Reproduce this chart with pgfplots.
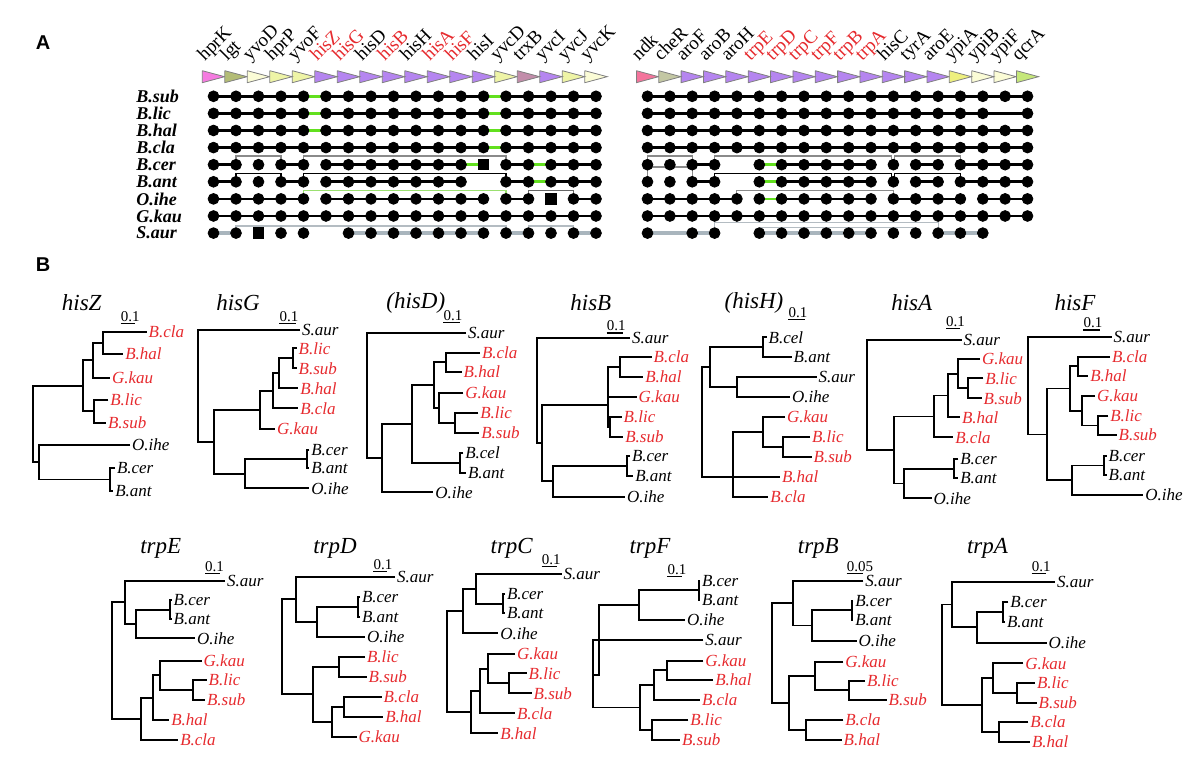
\documentclass[border=0pt]{standalone}
\usepackage{fontspec}
\setmainfont{Liberation Serif}
\newfontfamily\arialf{Liberation Sans}
\usepackage{pgfplots}
\pgfplotsset{compat=1.18}
\definecolor{myred}{HTML}{E62A2E}
\definecolor{pinkL}{HTML}{F57BE0}
\definecolor{oliveA}{HTML}{B3BC76}
\definecolor{paleY}{HTML}{FBFCD6}
\definecolor{lightY}{HTML}{EEF4A6}
\definecolor{purp}{HTML}{B585F0}
\definecolor{mauve}{HTML}{C28DAA}
\definecolor{pinkR}{HTML}{F4749C}
\definecolor{cheR}{HTML}{C3C7A3}
\definecolor{ypiA}{HTML}{EEF07E}
\definecolor{qcrA}{HTML}{C5E77A}
\definecolor{grn}{HTML}{62E01E}
\definecolor{saur}{HTML}{A9B5BD}
\definecolor{brk}{HTML}{8A8A8A}
\definecolor{brkl}{HTML}{B4BCC2}
\definecolor{brkg}{HTML}{9BE070}
\tikzset{
 lab/.style={anchor=west,inner sep=0pt,xshift=0.8pt,font=\fontsize{8.5}{9}\selectfont\itshape},
 ttl/.style={inner sep=0pt,font=\fontsize{11.5}{12}\selectfont\itshape},
 sc/.style={anchor=base west,inner sep=0pt,font=\fontsize{7.5}{8}\selectfont},
 gl/.style={anchor=base west,inner sep=0pt,rotate=45,font=\fontsize{9.5}{10}\selectfont},
 sp/.style={anchor=west,inner sep=0pt,font=\fontsize{9}{10}\selectfont\bfseries\itshape},
}
\newcommand\Lk[3]{\node[lab] at (axis cs:#1,#2) {#3};}
\newcommand\Lr[3]{\node[lab,text=myred] at (axis cs:#1,#2) {#3};}
\pgfplotsset{tree/.style={black,line width=0.85pt},
 arr/.style={draw=gray,line width=0.4pt}}
\begin{document}
\begin{tikzpicture}
\begin{axis}[width=600pt,height=387pt,scale only axis,xmin=0,xmax=1200,ymin=0,ymax=774,y dir=reverse,hide axis,clip=false,unbounded coords=jump]
\addplot[draw=none] coordinates {(0,0) (1200,774)};
% ---------- Panel labels
\node[font=\arialf\bfseries\fontsize{10}{11}\selectfont] at (axis cs:43,43) {A};
\node[font=\arialf\bfseries\fontsize{10}{11}\selectfont] at (axis cs:43,265) {B};
% ---------- arrows
\addplot[arr,fill=pinkL] coordinates {(202.3,70.7)(224.7,76.7)(202.3,82.7)(202.3,70.7)};
\addplot[arr,fill=oliveA] coordinates {(224.8,70.7)(247.2,76.7)(224.8,82.7)(224.8,70.7)};
\addplot[arr,fill=paleY] coordinates {(247.3,70.7)(269.7,76.7)(247.3,82.7)(247.3,70.7)(nan,nan)
 (584.8,70.7)(607.2,76.7)(584.8,82.7)(584.8,70.7)(nan,nan)
 (971.7,70.7)(993.9,76.7)(971.7,82.7)(971.7,70.7)(nan,nan)
 (994,70.7)(1016.2,76.7)(994,82.7)(994,70.7)};
\addplot[arr,fill=lightY] coordinates {(269.8,70.7)(292.2,76.7)(269.8,82.7)(269.8,70.7)(nan,nan)
 (292.3,70.7)(314.7,76.7)(292.3,82.7)(292.3,70.7)(nan,nan)
 (494.8,70.7)(517.2,76.7)(494.8,82.7)(494.8,70.7)(nan,nan)
 (562.3,70.7)(584.7,76.7)(562.3,82.7)(562.3,70.7)};
\addplot[arr,fill=purp] coordinates {(314.8,70.7)(337.2,76.7)(314.8,82.7)(314.8,70.7)(nan,nan)
 (337.3,70.7)(359.7,76.7)(337.3,82.7)(337.3,70.7)(nan,nan)
 (359.8,70.7)(382.2,76.7)(359.8,82.7)(359.8,70.7)(nan,nan)
 (382.3,70.7)(404.7,76.7)(382.3,82.7)(382.3,70.7)(nan,nan)
 (404.8,70.7)(427.2,76.7)(404.8,82.7)(404.8,70.7)(nan,nan)
 (427.3,70.7)(449.7,76.7)(427.3,82.7)(427.3,70.7)(nan,nan)
 (449.8,70.7)(472.2,76.7)(449.8,82.7)(449.8,70.7)(nan,nan)
 (472.3,70.7)(494.7,76.7)(472.3,82.7)(472.3,70.7)(nan,nan)
 (539.8,70.7)(562.2,76.7)(539.8,82.7)(539.8,70.7)(nan,nan)
 (681.1,70.7)(703.3,76.7)(681.1,82.7)(681.1,70.7)(nan,nan)
 (703.5,70.7)(725.7,76.7)(703.5,82.7)(703.5,70.7)(nan,nan)
 (725.8,70.7)(748,76.7)(725.8,82.7)(725.8,70.7)(nan,nan)
 (748.2,70.7)(770.4,76.7)(748.2,82.7)(748.2,70.7)(nan,nan)
 (770.5,70.7)(792.7,76.7)(770.5,82.7)(770.5,70.7)(nan,nan)
 (792.9,70.7)(815.1,76.7)(792.9,82.7)(792.9,70.7)(nan,nan)
 (815.2,70.7)(837.4,76.7)(815.2,82.7)(815.2,70.7)(nan,nan)
 (837.6,70.7)(859.8,76.7)(837.6,82.7)(837.6,70.7)(nan,nan)
 (859.9,70.7)(882.1,76.7)(859.9,82.7)(859.9,70.7)(nan,nan)
 (882.3,70.7)(904.5,76.7)(882.3,82.7)(882.3,70.7)(nan,nan)
 (904.6,70.7)(926.8,76.7)(904.6,82.7)(904.6,70.7)(nan,nan)
 (927,70.7)(949.2,76.7)(927,82.7)(927,70.7)};
\addplot[arr,fill=mauve] coordinates {(517.3,70.7)(539.7,76.7)(517.3,82.7)(517.3,70.7)};
\addplot[arr,fill=pinkR] coordinates {(636.4,70.7)(658.6,76.7)(636.4,82.7)(636.4,70.7)};
\addplot[arr,fill=cheR] coordinates {(658.8,70.7)(681,76.7)(658.8,82.7)(658.8,70.7)};
\addplot[arr,fill=ypiA] coordinates {(949.3,70.7)(971.5,76.7)(949.3,82.7)(949.3,70.7)};
\addplot[arr,fill=qcrA] coordinates {(1016.4,70.7)(1038.6,76.7)(1016.4,82.7)(1016.4,70.7)};
% ---------- gene labels
\node[gl] at (axis cs:204.5,62) {hprK};
\node[gl] at (axis cs:227,62) {lgt};
\node[gl] at (axis cs:249.5,62) {yvoD};
\node[gl] at (axis cs:272,62) {hprP};
\node[gl] at (axis cs:294.5,62) {yvoF};
\node[gl,text=myred] at (axis cs:317,62) {hisZ};
\node[gl,text=myred] at (axis cs:339.5,62) {hisG};
\node[gl] at (axis cs:362,62) {hisD};
\node[gl,text=myred] at (axis cs:384.5,62) {hisB};
\node[gl] at (axis cs:407,62) {hisH};
\node[gl,text=myred] at (axis cs:429.5,62) {hisA};
\node[gl,text=myred] at (axis cs:452,62) {hisF};
\node[gl] at (axis cs:474.5,62) {hisI};
\node[gl] at (axis cs:497,62) {yvcD};
\node[gl] at (axis cs:519.5,62) {trxB};
\node[gl] at (axis cs:542,62) {yvcI};
\node[gl] at (axis cs:564.5,62) {yvcJ};
\node[gl] at (axis cs:587,62) {yvcK};
\node[gl] at (axis cs:638.5,62) {ndk};
\node[gl] at (axis cs:660.9,62) {cheR};
\node[gl] at (axis cs:683.2,62) {aroF};
\node[gl] at (axis cs:705.6,62) {aroB};
\node[gl] at (axis cs:727.9,62) {aroH};
\node[gl,text=myred] at (axis cs:750.3,62) {trpE};
\node[gl,text=myred] at (axis cs:772.6,62) {trpD};
\node[gl,text=myred] at (axis cs:795,62) {trpC};
\node[gl,text=myred] at (axis cs:817.3,62) {trpF};
\node[gl,text=myred] at (axis cs:839.7,62) {trpB};
\node[gl,text=myred] at (axis cs:862,62) {trpA};
\node[gl] at (axis cs:884.4,62) {hisC};
\node[gl] at (axis cs:906.7,62) {tyrA};
\node[gl] at (axis cs:929.1,62) {aroE};
\node[gl] at (axis cs:951.4,62) {ypiA};
\node[gl] at (axis cs:973.8,62) {ypiB};
\node[gl] at (axis cs:996.1,62) {ypiF};
\node[gl] at (axis cs:1018.5,62) {qcrA};
% ---------- species labels
\node[sp] at (axis cs:136,96.3) {B.sub};
\node[sp] at (axis cs:136,113.4) {B.lic};
\node[sp] at (axis cs:136,130.5) {B.hal};
\node[sp] at (axis cs:136,147.6) {B.cla};
\node[sp] at (axis cs:136,164.7) {B.cer};
\node[sp] at (axis cs:136,181.8) {B.ant};
\node[sp] at (axis cs:136,198.9) {O.ihe};
\node[sp] at (axis cs:136,216) {G.kau};
\node[sp] at (axis cs:136,233.1) {S.aur};
% ---------- brackets
\addplot[brk,line width=0.55pt] coordinates {(236,164.7)(236,156)(281,156)(281,164.7)(nan,nan)
 (303.5,164.7)(303.5,156)(506,156)(506,164.7)(nan,nan)
 (647.5,164.7)(647.5,156)(692.2,156)(692.2,164.7)(nan,nan)
 (714.6,164.7)(714.6,156)(891.9,156)(891.9,164.7)(nan,nan)
 (894.9,164.7)(894.9,156)(960.4,156)(960.4,164.7)(nan,nan)
 (647.5,181.8)(647.5,167)(692.2,167)(692.2,181.8)(nan,nan)
 (736.9,198.9)(736.9,190.7)(893.4,190.7)(893.4,198.9)};
\addplot[black,line width=0.55pt] coordinates {(236,181.8)(236,173.3)(281,173.3)(281,181.8)(nan,nan)
 (303.5,181.8)(303.5,173.3)(506,173.3)(506,181.8)(nan,nan)
 (714.6,181.8)(714.6,173.3)(891.9,173.3)(891.9,181.8)(nan,nan)
 (894.9,181.8)(894.9,173.3)(960.4,173.3)(960.4,181.8)};
\addplot[brkg,line width=0.55pt] coordinates {(303.5,198.9)(303.5,190.7)(506,190.7)(506,198.9)};
\addplot[black!60,line width=0.55pt] coordinates {(528.5,198.9)(528.5,190.7)(573.5,190.7)(573.5,198.9)};
\addplot[brkl,line width=0.55pt] coordinates {(236,233.1)(236,226)(303.5,226)(303.5,233.1)(nan,nan)
 (303.5,233.1)(303.5,226)(506,226)(506,233.1)(nan,nan)
 (528.5,233.1)(528.5,226)(573.5,226)(573.5,233.1)(nan,nan)
 (714.6,233.1)(714.6,222.7)(938.1,222.7)(938.1,233.1)(nan,nan)
 (759.3,233.1)(759.3,227.3)(915.7,227.3)(915.7,233.1)};
% ---------- black adjacency lines
\addplot[black,line width=1.35pt] coordinates {
 (213.5,96.3)(303.5,96.3)(nan,nan)(326,96.3)(483.5,96.3)(nan,nan)(506,96.3)(596,96.3)(nan,nan)(647.5,96.3)(1027.5,96.3)(nan,nan)
 (213.5,113.4)(303.5,113.4)(nan,nan)(326,113.4)(483.5,113.4)(nan,nan)(506,113.4)(596,113.4)(nan,nan)(647.5,113.4)(1027.5,113.4)(nan,nan)
 (213.5,130.5)(303.5,130.5)(nan,nan)(326,130.5)(483.5,130.5)(nan,nan)(506,130.5)(596,130.5)(nan,nan)(647.5,130.5)(1027.5,130.5)(nan,nan)
 (213.5,147.6)(483.5,147.6)(nan,nan)(506,147.6)(596,147.6)(nan,nan)(647.5,147.6)(1027.5,147.6)(nan,nan)
 (213.5,164.7)(236,164.7)(nan,nan)(281,164.7)(303.5,164.7)(nan,nan)(326,164.7)(461,164.7)(nan,nan)(506,164.7)(528.5,164.7)(nan,nan)(551,164.7)(596,164.7)(nan,nan)
 (692.2,164.7)(714.6,164.7)(nan,nan)(781.6,164.7)(871,164.7)(nan,nan)(915.7,164.7)(938.1,164.7)(nan,nan)(960.4,164.7)(1027.5,164.7)(nan,nan)
 (213.5,181.8)(236,181.8)(nan,nan)(281,181.8)(303.5,181.8)(nan,nan)(326,181.8)(461,181.8)(nan,nan)(506,181.8)(528.5,181.8)(nan,nan)(551,181.8)(596,181.8)(nan,nan)
 (692.2,181.8)(714.6,181.8)(nan,nan)(781.6,181.8)(871,181.8)(nan,nan)(915.7,181.8)(938.1,181.8)(nan,nan)(960.4,181.8)(1027.5,181.8)(nan,nan)
 (213.5,198.9)(303.5,198.9)(nan,nan)(326,198.9)(483.5,198.9)(nan,nan)(506,198.9)(528.5,198.9)(nan,nan)(573.5,198.9)(596,198.9)(nan,nan)
 (647.5,198.9)(736.9,198.9)(nan,nan)(781.6,198.9)(871,198.9)(nan,nan)(893.4,198.9)(960.4,198.9)(nan,nan)(982.8,198.9)(1027.5,198.9)(nan,nan)
 (213.5,216)(596,216)(nan,nan)(647.5,216)(1027.5,216)};
\addplot[grn,line width=1.35pt] coordinates {
 (303.5,96.3)(326,96.3)(nan,nan)(483.5,96.3)(506,96.3)(nan,nan)
 (303.5,113.4)(326,113.4)(nan,nan)(483.5,113.4)(506,113.4)(nan,nan)
 (303.5,130.5)(326,130.5)(nan,nan)(483.5,130.5)(506,130.5)(nan,nan)
 (483.5,147.6)(506,147.6)(nan,nan)
 (461,164.7)(483.5,164.7)(nan,nan)(528.5,164.7)(551,164.7)(nan,nan)(759.3,164.7)(781.6,164.7)(nan,nan)
 (528.5,181.8)(551,181.8)(nan,nan)(759.3,181.8)(781.6,181.8)(nan,nan)
 (759.3,198.9)(781.6,198.9)};
% ---------- dots
\addplot[only marks,mark=*,mark size=2.7pt,black] coordinates {
 (213.5,96.3)(236,96.3)(258.5,96.3)(281,96.3)(303.5,96.3)(326,96.3)(348.5,96.3)(371,96.3)(393.5,96.3)(416,96.3)(438.5,96.3)(461,96.3)(483.5,96.3)(506,96.3)(528.5,96.3)(551,96.3)(573.5,96.3)(596,96.3)
 (647.5,96.3)(669.9,96.3)(692.2,96.3)(714.6,96.3)(736.9,96.3)(759.3,96.3)(781.6,96.3)(804,96.3)(826.3,96.3)(848.7,96.3)(871,96.3)(893.4,96.3)(915.7,96.3)(938.1,96.3)(960.4,96.3)(982.8,96.3)(1005.1,96.3)(1027.5,96.3)
 (213.5,113.4)(236,113.4)(258.5,113.4)(281,113.4)(303.5,113.4)(326,113.4)(348.5,113.4)(371,113.4)(393.5,113.4)(416,113.4)(438.5,113.4)(461,113.4)(483.5,113.4)(506,113.4)(528.5,113.4)(551,113.4)(573.5,113.4)(596,113.4)
 (647.5,113.4)(669.9,113.4)(692.2,113.4)(714.6,113.4)(736.9,113.4)(759.3,113.4)(781.6,113.4)(804,113.4)(826.3,113.4)(848.7,113.4)(871,113.4)(893.4,113.4)(915.7,113.4)(938.1,113.4)(960.4,113.4)(982.8,113.4)(1027.5,113.4)
 (213.5,130.5)(236,130.5)(258.5,130.5)(281,130.5)(303.5,130.5)(326,130.5)(348.5,130.5)(371,130.5)(393.5,130.5)(416,130.5)(438.5,130.5)(461,130.5)(483.5,130.5)(506,130.5)(528.5,130.5)(551,130.5)(573.5,130.5)(596,130.5)
 (647.5,130.5)(669.9,130.5)(692.2,130.5)(714.6,130.5)(736.9,130.5)(759.3,130.5)(781.6,130.5)(804,130.5)(826.3,130.5)(848.7,130.5)(871,130.5)(893.4,130.5)(915.7,130.5)(938.1,130.5)(960.4,130.5)(982.8,130.5)(1005.1,130.5)(1027.5,130.5)
 (213.5,147.6)(236,147.6)(258.5,147.6)(281,147.6)(303.5,147.6)(326,147.6)(348.5,147.6)(371,147.6)(393.5,147.6)(416,147.6)(438.5,147.6)(461,147.6)(483.5,147.6)(506,147.6)(528.5,147.6)(551,147.6)(573.5,147.6)(596,147.6)
 (647.5,147.6)(669.9,147.6)(692.2,147.6)(714.6,147.6)(736.9,147.6)(759.3,147.6)(781.6,147.6)(804,147.6)(826.3,147.6)(848.7,147.6)(871,147.6)(893.4,147.6)(915.7,147.6)(938.1,147.6)(960.4,147.6)(982.8,147.6)(1005.1,147.6)(1027.5,147.6)
 (213.5,164.7)(236,164.7)(258.5,164.7)(281,164.7)(303.5,164.7)(326,164.7)(348.5,164.7)(371,164.7)(393.5,164.7)(416,164.7)(438.5,164.7)(461,164.7)(506,164.7)(528.5,164.7)(551,164.7)(573.5,164.7)(596,164.7)
 (647.5,164.7)(669.9,164.7)(692.2,164.7)(714.6,164.7)(759.3,164.7)(781.6,164.7)(804,164.7)(826.3,164.7)(848.7,164.7)(871,164.7)(893.4,164.7)(915.7,164.7)(938.1,164.7)(960.4,164.7)(982.8,164.7)(1005.1,164.7)(1027.5,164.7)
 (213.5,181.8)(236,181.8)(258.5,181.8)(281,181.8)(303.5,181.8)(326,181.8)(348.5,181.8)(371,181.8)(393.5,181.8)(416,181.8)(438.5,181.8)(461,181.8)(506,181.8)(528.5,181.8)(551,181.8)(573.5,181.8)(596,181.8)
 (647.5,181.8)(669.9,181.8)(692.2,181.8)(714.6,181.8)(759.3,181.8)(781.6,181.8)(804,181.8)(826.3,181.8)(848.7,181.8)(871,181.8)(893.4,181.8)(915.7,181.8)(938.1,181.8)(960.4,181.8)(982.8,181.8)(1005.1,181.8)(1027.5,181.8)
 (213.5,198.9)(236,198.9)(258.5,198.9)(281,198.9)(303.5,198.9)(326,198.9)(348.5,198.9)(371,198.9)(393.5,198.9)(416,198.9)(438.5,198.9)(461,198.9)(483.5,198.9)(506,198.9)(528.5,198.9)(573.5,198.9)(596,198.9)
 (647.5,198.9)(669.9,198.9)(692.2,198.9)(714.6,198.9)(736.9,198.9)(759.3,198.9)(781.6,198.9)(804,198.9)(826.3,198.9)(848.7,198.9)(871,198.9)(893.4,198.9)(915.7,198.9)(938.1,198.9)(960.4,198.9)(982.8,198.9)(1005.1,198.9)(1027.5,198.9)
 (213.5,216)(236,216)(258.5,216)(281,216)(303.5,216)(326,216)(348.5,216)(371,216)(393.5,216)(416,216)(438.5,216)(461,216)(483.5,216)(506,216)(528.5,216)(551,216)(573.5,216)(596,216)
 (647.5,216)(669.9,216)(692.2,216)(714.6,216)(736.9,216)(759.3,216)(781.6,216)(804,216)(826.3,216)(848.7,216)(871,216)(893.4,216)(915.7,216)(938.1,216)(960.4,216)(982.8,216)(1005.1,216)(1027.5,216)
 (213.5,233.1)(236,233.1)(281,233.1)(303.5,233.1)(348.5,233.1)(371,233.1)(393.5,233.1)(416,233.1)(438.5,233.1)(461,233.1)(483.5,233.1)(506,233.1)(528.5,233.1)(551,233.1)(573.5,233.1)(596,233.1)
 (647.5,233.1)(692.2,233.1)(714.6,233.1)(759.3,233.1)(781.6,233.1)(804,233.1)(826.3,233.1)(848.7,233.1)(871,233.1)(893.4,233.1)(915.7,233.1)(938.1,233.1)(960.4,233.1)(982.8,233.1)};
\addplot[only marks,mark=square*,mark size=2.6pt,black] coordinates {(483.5,164.7)(551,198.9)(258.5,233.1)};
% S.aur grey lines (over the dots)
\addplot[saur,line width=1.6pt] coordinates {
 (213.5,233.1)(230.7,233.1)(nan,nan)(348.5,233.1)(365.7,233.1)(nan,nan)(371,233.1)(388.2,233.1)(nan,nan)
 (393.5,233.1)(410.7,233.1)(nan,nan)(416,233.1)(433.2,233.1)(nan,nan)(438.5,233.1)(455.7,233.1)(nan,nan)
 (461,233.1)(478.2,233.1)(nan,nan)(506,233.1)(523.2,233.1)(nan,nan)(573.5,233.1)(590.7,233.1)(nan,nan)
 (647.5,233.1)(686.9,233.1)(nan,nan)(692.2,233.1)(709.3,233.1)(nan,nan)(759.3,233.1)(776.3,233.1)(nan,nan)
 (781.6,233.1)(798.7,233.1)(nan,nan)(804,233.1)(821,233.1)(nan,nan)(826.3,233.1)(843.4,233.1)(nan,nan)
 (848.7,233.1)(865.7,233.1)(nan,nan)(938.1,233.1)(955.1,233.1)(nan,nan)(960.4,233.1)(977.5,233.1)};
% ================= Panel B trees
% titles
\node[ttl] at (axis cs:81.7,303) {hisZ};
\node[ttl] at (axis cs:238,303) {hisG};
\node[ttl] at (axis cs:415.8,303) {(hisD)};
\node[ttl] at (axis cs:590.8,303) {hisB};
\node[ttl] at (axis cs:754,303) {(hisH)};
\node[ttl] at (axis cs:911.7,303) {hisA};
\node[ttl] at (axis cs:1075,303) {hisF};
\node[ttl] at (axis cs:160.8,548.3) {trpE};
\node[ttl] at (axis cs:335,548.3) {trpD};
\node[ttl] at (axis cs:511.7,548.3) {trpC};
\node[ttl] at (axis cs:650,548.3) {trpF};
\node[ttl] at (axis cs:818.3,548.3) {trpB};
\node[ttl] at (axis cs:987.5,548.3) {trpA};
% scale bars
\addplot[black,line width=0.6pt] coordinates {
 (120.7,323.3)(135,323.3)(nan,nan)(279.3,323.3)(296,323.3)(nan,nan)(443.3,322.7)(460,322.7)(nan,nan)
 (606.7,333)(623.3,333)(nan,nan)(788.3,319.3)(805,319.3)(nan,nan)(946,328.3)(960,328.3)(nan,nan)
 (1083.3,330)(1100,330)(nan,nan)(205,573.3)(220,573.3)(nan,nan)(373.3,571.7)(387.3,571.7)(nan,nan)
 (541.7,566.7)(556.7,566.7)(nan,nan)(667.3,576.7)(681.7,576.7)(nan,nan)(846.7,573.3)(863.3,573.3)(nan,nan)
 (1031.7,573.3)(1046,573.3)};
\node[sc] at (axis cs:120.5,321.3) {0.1};
\node[sc] at (axis cs:279.1,321.3) {0.1};
\node[sc] at (axis cs:443.1,320.7) {0.1};
\node[sc] at (axis cs:606.5,331) {0.1};
\node[sc] at (axis cs:788.1,317.3) {0.1};
\node[sc] at (axis cs:945.8,326.3) {0.1};
\node[sc] at (axis cs:1083.1,328) {0.1};
\node[sc] at (axis cs:204.8,571.3) {0.1};
\node[sc] at (axis cs:373.1,569.7) {0.1};
\node[sc] at (axis cs:541.5,564.7) {0.1};
\node[sc] at (axis cs:667.1,574.7) {0.1};
\node[sc] at (axis cs:846.5,571.3) {0.05};
\node[sc] at (axis cs:1031.5,571.3) {0.1};
% hisZ
\addplot[tree] coordinates {(146.7,331.7)(103.3,331.7)(103.3,354)(123.3,354)(nan,nan)
 (103.3,342.8)(92.7,342.8)(92.7,377.7)(110,377.7)(nan,nan)
 (108.3,400)(94.3,400)(94.3,422.7)(106,422.7)(nan,nan)
 (92.7,360.3)(82.7,360.3)(82.7,411.3)(94.3,411.3)(nan,nan)
 (115,468.3)(110,468.3)(110,490.7)(113.3,490.7)(nan,nan)
 (130,445)(39.3,445)(39.3,479.5)(110,479.5)(nan,nan)
 (82.7,385.8)(33.3,385.8)(33.3,462.3)(39.3,462.3)};
\Lr{146.7}{331.7}{B.cla}\Lr{123.3}{354}{B.hal}\Lr{110}{377.7}{G.kau}\Lr{108.3}{400}{B.lic}\Lr{106}{422.7}{B.sub}
\Lk{130}{445}{O.ihe}\Lk{115}{468.3}{B.cer}\Lk{113.3}{490.7}{B.ant}
% hisG
\addplot[tree] coordinates {(296.7,348.3)(292.7,348.3)(292.7,368.3)(296.7,368.3)(nan,nan)
 (292.7,358.3)(279.3,358.3)(279.3,388.3)(298.3,388.3)(nan,nan)
 (279.3,373.3)(273.3,373.3)(273.3,408.3)(298.3,408.3)(nan,nan)
 (273.3,390.8)(260,390.8)(260,429)(275,429)(nan,nan)
 (309.3,450)(306.7,450)(306.7,468.3)(309.3,468.3)(nan,nan)
 (306.7,459.2)(245,459.2)(245,488.3)(309.3,488.3)(nan,nan)
 (260,409.9)(214.3,409.9)(214.3,473.8)(245,473.8)(nan,nan)
 (300,330)(197.7,330)(197.7,441.8)(214.3,441.8)};
\Lk{300}{330}{S.aur}\Lr{296.7}{348.3}{B.lic}\Lr{296.7}{368.3}{B.sub}\Lr{298.3}{388.3}{B.hal}\Lr{298.3}{408.3}{B.cla}
\Lr{275}{429}{G.kau}\Lk{309.3}{450}{B.cer}\Lk{309.3}{468.3}{B.ant}\Lk{309.3}{488.3}{O.ihe}
% hisD
\addplot[tree] coordinates {(480,352.7)(445.7,352.7)(445.7,371.7)(461.7,371.7)(nan,nan)
 (478.3,412.7)(455,412.7)(455,432.7)(479.3,432.7)(nan,nan)
 (463.3,392.7)(439,392.7)(439,422.7)(455,422.7)(nan,nan)
 (445.7,362.2)(434,362.2)(434,407.7)(439,407.7)(nan,nan)
 (463.3,452.7)(460,452.7)(460,472.7)(466,472.7)(nan,nan)
 (434,385)(411.7,385)(411.7,462.7)(460,462.7)(nan,nan)
 (411.7,423.8)(381.7,423.8)(381.7,492.3)(433.3,492.3)(nan,nan)
 (466,332.7)(366.7,332.7)(366.7,458)(381.7,458)};
\Lk{466}{332.7}{S.aur}\Lr{480}{352.7}{B.cla}\Lr{461.7}{371.7}{B.hal}\Lr{463.3}{392.7}{G.kau}\Lr{478.3}{412.7}{B.lic}
\Lr{479.3}{432.7}{B.sub}\Lk{463.3}{452.7}{B.cel}\Lk{466}{472.7}{B.ant}\Lk{433.3}{492.3}{O.ihe}
% hisB
\addplot[tree] coordinates {(651.7,356.7)(620,356.7)(620,376.7)(643.3,376.7)(nan,nan)
 (621.7,416.7)(610,416.7)(610,436.7)(623.3,436.7)(nan,nan)
 (620,366.7)(608.3,366.7)(608.3,426.7)(610,426.7)(nan,nan)
 (608.3,396.7)(636.7,396.7)(nan,nan)
 (630,456)(626.7,456)(626.7,476)(633.3,476)(nan,nan)
 (626.7,466)(553.3,466)(553.3,496.7)(625,496.7)(nan,nan)
 (608.3,405)(541.7,405)(541.7,481.3)(553.3,481.3)(nan,nan)
 (630,338.3)(536.7,338.3)(536.7,443.2)(541.7,443.2)};
\Lk{630}{338.3}{S.aur}\Lr{651.7}{356.7}{B.cla}\Lr{643.3}{376.7}{B.hal}\Lr{636.7}{396.7}{G.kau}\Lr{621.7}{416.7}{B.lic}
\Lr{623.3}{436.7}{B.sub}\Lk{630}{456}{B.cer}\Lk{633.3}{476}{B.ant}\Lk{625}{496.7}{O.ihe}
% hisH
\addplot[tree] coordinates {(766.7,337.3)(763.3,337.3)(763.3,356.7)(791.7,356.7)(nan,nan)
 (816.7,376.7)(736.7,376.7)(736.7,396.7)(790,396.7)(nan,nan)
 (763.3,347)(710,347)(710,386.7)(736.7,386.7)(nan,nan)
 (810,436.7)(783.3,436.7)(783.3,456.7)(811.7,456.7)(nan,nan)
 (785,416.7)(763.3,416.7)(763.3,446.7)(783.3,446.7)(nan,nan)
 (763.3,431.7)(733.3,431.7)(733.3,496.7)(768.3,496.7)(nan,nan)
 (733.3,476.7)(780,476.7)(nan,nan)
 (710,366.8)(701.7,366.8)(701.7,476.7)(733.3,476.7)};
\Lk{766.7}{337.3}{B.cel}\Lk{791.7}{356.7}{B.ant}\Lk{816.7}{376.7}{S.aur}\Lk{790}{396.7}{O.ihe}\Lr{785}{416.7}{G.kau}
\Lr{810}{436.7}{B.lic}\Lr{811.7}{456.7}{B.sub}\Lr{780}{476.7}{B.hal}\Lr{768.3}{496.7}{B.cla}
% hisA
\addplot[tree] coordinates {(983.3,378.3)(968.3,378.3)(968.3,398.3)(981.7,398.3)(nan,nan)
 (980,359)(958.3,359)(958.3,388.3)(968.3,388.3)(nan,nan)
 (958.3,373.7)(948.3,373.7)(948.3,417.3)(960,417.3)(nan,nan)
 (948.3,395.5)(934.3,395.5)(934.3,437.3)(953.3,437.3)(nan,nan)
 (958.3,459.3)(954.3,459.3)(954.3,478.3)(958.3,478.3)(nan,nan)
 (954.3,468.8)(904,468.8)(904,498.3)(931.7,498.3)(nan,nan)
 (934.3,416.4)(894.3,416.4)(894.3,483.6)(904,483.6)(nan,nan)
 (961.7,340)(867.3,340)(867.3,450)(894.3,450)};
\Lk{961.7}{340}{S.aur}\Lr{980}{359}{G.kau}\Lr{983.3}{378.3}{B.lic}\Lr{981.7}{398.3}{B.sub}\Lr{960}{417.3}{B.hal}
\Lr{953.3}{437.3}{B.cla}\Lk{958.3}{459.3}{B.cer}\Lk{958.3}{478.3}{B.ant}\Lk{931.7}{498.3}{O.ihe}
% hisF
\addplot[tree] coordinates {(1110,356.7)(1078.3,356.7)(1078.3,376)(1088.3,376)(nan,nan)
 (1108.3,416)(1098.3,416)(1098.3,435)(1116.7,435)(nan,nan)
 (1095,396)(1081.7,396)(1081.7,425.5)(1098.3,425.5)(nan,nan)
 (1078.3,366.3)(1070,366.3)(1070,410.8)(1081.7,410.8)(nan,nan)
 (1106.7,456)(1104.3,456)(1104.3,475)(1106.7,475)(nan,nan)
 (1104.3,465.5)(1071.7,465.5)(1071.7,495)(1143.3,495)(nan,nan)
 (1070,388.5)(1046.7,388.5)(1046.7,480.3)(1071.7,480.3)(nan,nan)
 (1111.7,336.7)(1028.3,336.7)(1028.3,434.4)(1046.7,434.4)};
\Lk{1111.7}{336.7}{S.aur}\Lr{1110}{356.7}{B.cla}\Lr{1088.3}{376}{B.hal}\Lr{1095}{396}{G.kau}\Lr{1108.3}{416}{B.lic}
\Lr{1116.7}{435}{B.sub}\Lk{1106.7}{456}{B.cer}\Lk{1106.7}{475}{B.ant}\Lk{1143.3}{495}{O.ihe}
% trpE
\addplot[tree] coordinates {(171.7,600)(170,600)(170,619.3)(171.7,619.3)(nan,nan)
 (170,609.7)(135.7,609.7)(135.7,638.3)(195,638.3)(nan,nan)
 (225,580.7)(125,580.7)(125,624)(135.7,624)(nan,nan)
 (206.7,680)(193.3,680)(193.3,700)(205,700)(nan,nan)
 (201.7,660.7)(160,660.7)(160,690)(193.3,690)(nan,nan)
 (160,675.3)(153.3,675.3)(153.3,720)(169.3,720)(nan,nan)
 (153.3,697.7)(140.7,697.7)(140.7,740)(178.3,740)(nan,nan)
 (125,602.3)(112.3,602.3)(112.3,718.8)(140.7,718.8)};
\Lk{225}{580.7}{S.aur}\Lk{171.7}{600}{B.cer}\Lk{171.7}{619.3}{B.ant}\Lk{195}{638.3}{O.ihe}\Lr{201.7}{660.7}{G.kau}
\Lr{206.7}{680}{B.lic}\Lr{205}{700}{B.sub}\Lr{169.3}{720}{B.hal}\Lr{178.3}{740}{B.cla}
% trpD
\addplot[tree] coordinates {(360,597.3)(358.3,597.3)(358.3,616.7)(360,616.7)(nan,nan)
 (358.3,607)(316.7,607)(316.7,636.7)(365,636.7)(nan,nan)
 (395,576.7)(296,576.7)(296,621.8)(316.7,621.8)(nan,nan)
 (365,656.7)(339.3,656.7)(339.3,676.7)(366.7,676.7)(nan,nan)
 (381.7,696.7)(344,696.7)(344,716.7)(383.3,716.7)(nan,nan)
 (344,706.7)(331.7,706.7)(331.7,736.7)(356.7,736.7)(nan,nan)
 (339.3,666.7)(313.3,666.7)(313.3,721.7)(331.7,721.7)(nan,nan)
 (296,599.3)(281.7,599.3)(281.7,694.2)(313.3,694.2)};
\Lk{395}{576.7}{S.aur}\Lk{360}{597.3}{B.cer}\Lk{360}{616.7}{B.ant}\Lk{365}{636.7}{O.ihe}\Lr{365}{656.7}{B.lic}
\Lr{366.7}{676.7}{B.sub}\Lr{381.7}{696.7}{B.cla}\Lr{383.3}{716.7}{B.hal}\Lr{356.7}{736.7}{G.kau}
% trpC
\addplot[tree] coordinates {(505,594)(503.3,594)(503.3,613.3)(505,613.3)(nan,nan)
 (561.7,574)(475.7,574)(475.7,603.7)(503.3,603.7)(nan,nan)
 (475.7,588.8)(462.7,588.8)(462.7,633.3)(498.3,633.3)(nan,nan)
 (526.7,673.3)(509.3,673.3)(509.3,693.3)(531.7,693.3)(nan,nan)
 (515,654)(487.7,654)(487.7,683.3)(509.3,683.3)(nan,nan)
 (487.7,668.7)(480,668.7)(480,713.3)(515,713.3)(nan,nan)
 (480,691)(471,691)(471,733.3)(498.3,733.3)(nan,nan)
 (462.7,611)(446.7,611)(446.7,712.2)(471,712.2)};
\Lk{561.7}{574}{S.aur}\Lk{505}{594}{B.cer}\Lk{505}{613.3}{B.ant}\Lk{498.3}{633.3}{O.ihe}\Lr{515}{654}{G.kau}
\Lr{526.7}{673.3}{B.lic}\Lr{531.7}{693.3}{B.sub}\Lr{515}{713.3}{B.cla}\Lr{498.3}{733.3}{B.hal}
% trpF
\addplot[tree] coordinates {(700,580.7)(699.3,580.7)(699.3,600)(700,600)(nan,nan)
 (699.3,590.3)(639.3,590.3)(639.3,620)(685,620)(nan,nan)
 (703.3,660.7)(667.3,660.7)(667.3,680)(713.3,680)(nan,nan)
 (667.3,670.3)(654,670.3)(654,700)(700,700)(nan,nan)
 (688.3,720)(651.7,720)(651.7,740)(680,740)(nan,nan)
 (654,685)(640,685)(640,730)(651.7,730)(nan,nan)
 (703.3,640)(593.3,640)(593.3,707.5)(640,707.5)(nan,nan)
 (639.3,605.2)(599,605.2)(599,675)(593.3,675)};
\Lk{700}{580.7}{B.cer}\Lk{700}{600}{B.ant}\Lk{685}{620}{O.ihe}\Lk{703.3}{640}{S.aur}\Lr{703.3}{660.7}{G.kau}
\Lr{713.3}{680}{B.hal}\Lr{700}{700}{B.cla}\Lr{688.3}{720}{B.lic}\Lr{680}{740}{B.sub}
% trpB
\addplot[tree] coordinates {(853.3,600.7)(851.7,600.7)(851.7,620)(853.3,620)(nan,nan)
 (851.7,610.3)(812.3,610.3)(812.3,640.7)(856.7,640.7)(nan,nan)
 (863.3,580.7)(792.7,580.7)(792.7,625.5)(812.3,625.5)(nan,nan)
 (865,680.7)(849.3,680.7)(849.3,700)(886.7,700)(nan,nan)
 (843.3,661.7)(815,661.7)(815,690.3)(849.3,690.3)(nan,nan)
 (843.3,720)(805.7,720)(805.7,740)(841.7,740)(nan,nan)
 (815,676)(789.3,676)(789.3,730)(805.7,730)(nan,nan)
 (792.7,603.1)(771.7,603.1)(771.7,703)(789.3,703)};
\Lk{863.3}{580.7}{S.aur}\Lk{853.3}{600.7}{B.cer}\Lk{853.3}{620}{B.ant}\Lk{856.7}{640.7}{O.ihe}\Lr{843.3}{661.7}{G.kau}
\Lr{865}{680.7}{B.lic}\Lr{886.7}{700}{B.sub}\Lr{843.3}{720}{B.cla}\Lr{841.7}{740}{B.hal}
% trpA
\addplot[tree] coordinates {(1008.3,601.7)(1002.7,601.7)(1002.7,621.7)(1005,621.7)(nan,nan)
 (1002.7,611.7)(976.7,611.7)(976.7,642.7)(1046.7,642.7)(nan,nan)
 (1055,581.7)(951.7,581.7)(951.7,627.2)(976.7,627.2)(nan,nan)
 (1035,682.7)(1017.3,682.7)(1017.3,702.7)(1036.7,702.7)(nan,nan)
 (1023.3,663.3)(993.3,663.3)(993.3,692.7)(1017.3,692.7)(nan,nan)
 (1028.3,721.7)(999.3,721.7)(999.3,741.7)(1030,741.7)(nan,nan)
 (993.3,678)(981.7,678)(981.7,731.7)(999.3,731.7)(nan,nan)
 (951.7,604.4)(941.7,604.4)(941.7,704.8)(981.7,704.8)};
\Lk{1055}{581.7}{S.aur}\Lk{1008.3}{601.7}{B.cer}\Lk{1005}{621.7}{B.ant}\Lk{1046.7}{642.7}{O.ihe}\Lr{1023.3}{663.3}{G.kau}
\Lr{1035}{682.7}{B.lic}\Lr{1036.7}{702.7}{B.sub}\Lr{1028.3}{721.7}{B.cla}\Lr{1030}{741.7}{B.hal}
\end{axis}
\end{tikzpicture}
\end{document}
